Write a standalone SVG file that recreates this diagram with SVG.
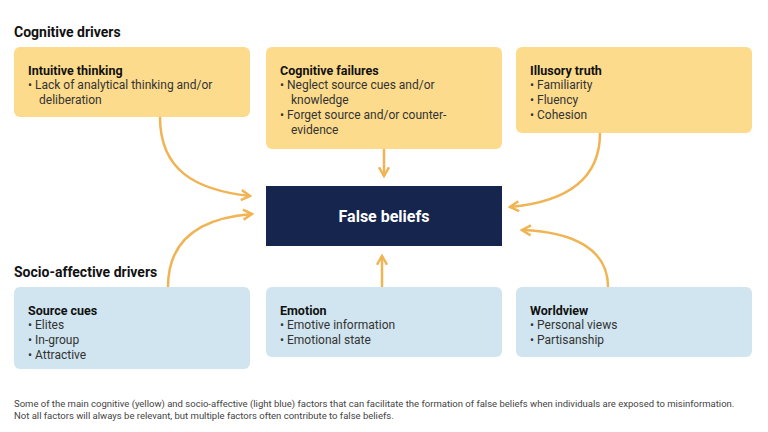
<svg xmlns="http://www.w3.org/2000/svg" width="768" height="432" viewBox="0 0 768 432">
<style>
.h{font-family:Roboto,"Liberation Sans",sans-serif;font-weight:bold;font-size:14px;fill:#111}
.t{font-family:Roboto,"Liberation Sans",sans-serif;font-weight:bold;font-size:12.5px;fill:#111}
.b{font-family:Roboto,"Liberation Sans",sans-serif;font-size:12px;fill:#333}
.y{fill:#fddb8c}
.bl{fill:#d0e5ef}
.c{fill:none;stroke:#f0b454;stroke-width:2.5;marker-end:url(#a)}
.cap{font-family:Roboto,"Liberation Sans",sans-serif;font-size:9.5px;fill:#444}
</style>
<defs><marker id="a" viewBox="0 0 10 10" refX="8" refY="5" markerWidth="5" markerHeight="5" orient="auto"><polyline points="1,1 8,5 1,9" fill="none" stroke="#f0b454" stroke-width="2"/></marker></defs>
<rect width="768" height="432" fill="#fff"/>
<text class="h" x="14" y="37">Cognitive drivers</text>
<text class="h" x="14" y="277">Socio-affective drivers</text>
<g id="intuitive"><rect class="y" x="14" y="47" width="236" height="70" rx="6"/>
<text class="t" x="28" y="75">Intuitive thinking</text>
<text class="b" x="28" y="89">•  Lack of analytical thinking and/or</text><text class="b" x="39" y="104">deliberation</text></g>
<g id="failures"><rect class="y" x="266" y="47" width="236" height="102" rx="6"/>
<text class="t" x="280" y="75">Cognitive failures</text>
<text class="b" x="280" y="89">•  Neglect source cues and/or</text><text class="b" x="291" y="104">knowledge</text>
<text class="b" x="280" y="119">•  Forget source and/or counter-</text><text class="b" x="291" y="134">evidence</text></g>
<g id="illusory"><rect class="y" x="516" y="47" width="236" height="86" rx="6"/>
<text class="t" x="530" y="75">Illusory truth</text>
<text class="b" x="530" y="89">•  Familiarity</text><text class="b" x="530" y="104">•  Fluency</text><text class="b" x="530" y="119">•  Cohesion</text></g>
<g id="false"><rect x="266" y="186" width="236" height="60" fill="#16254e"/>
<text x="384" y="222" text-anchor="middle" font-family="Roboto,'Liberation Sans',sans-serif" font-weight="bold" font-size="16" fill="#fff">False beliefs</text></g>
<g id="source"><rect class="bl" x="14" y="287" width="236" height="82" rx="6"/>
<text class="t" x="28" y="315">Source cues</text>
<text class="b" x="28" y="329">•  Elites</text><text class="b" x="28" y="344">•  In-group</text><text class="b" x="28" y="359">•  Attractive</text></g>
<g id="emotion"><rect class="bl" x="266" y="287" width="236" height="70" rx="6"/>
<text class="t" x="280" y="315">Emotion</text>
<text class="b" x="280" y="329">•  Emotive information</text><text class="b" x="280" y="344">•  Emotional state</text></g>
<g id="worldview"><rect class="bl" x="516" y="287" width="236" height="70" rx="6"/>
<text class="t" x="530" y="315">Worldview</text>
<text class="b" x="530" y="329">•  Personal views</text><text class="b" x="530" y="344">•  Partisanship</text></g>
<g id="connectors">
<path class="c" d="M160,117 C160,170 195,190 250,196"/>
<path class="c" d="M384,149 L384,176"/>
<path class="c" d="M600,133 C600,180 565,202 510,207"/>
<path class="c" d="M168,287 C168,240 200,218 252,214"/>
<path class="c" d="M382,287 L382,256"/>
<path class="c" d="M608,287 C608,250 575,232 522,230"/>
</g>
<text class="cap" x="14" y="407">Some of the main cognitive (yellow) and socio-affective (light blue) factors that can facilitate the formation of false beliefs when individuals are exposed to misinformation.</text>
<text class="cap" x="14" y="419">Not all factors will always be relevant, but multiple factors often contribute to false beliefs.</text>
</svg>
